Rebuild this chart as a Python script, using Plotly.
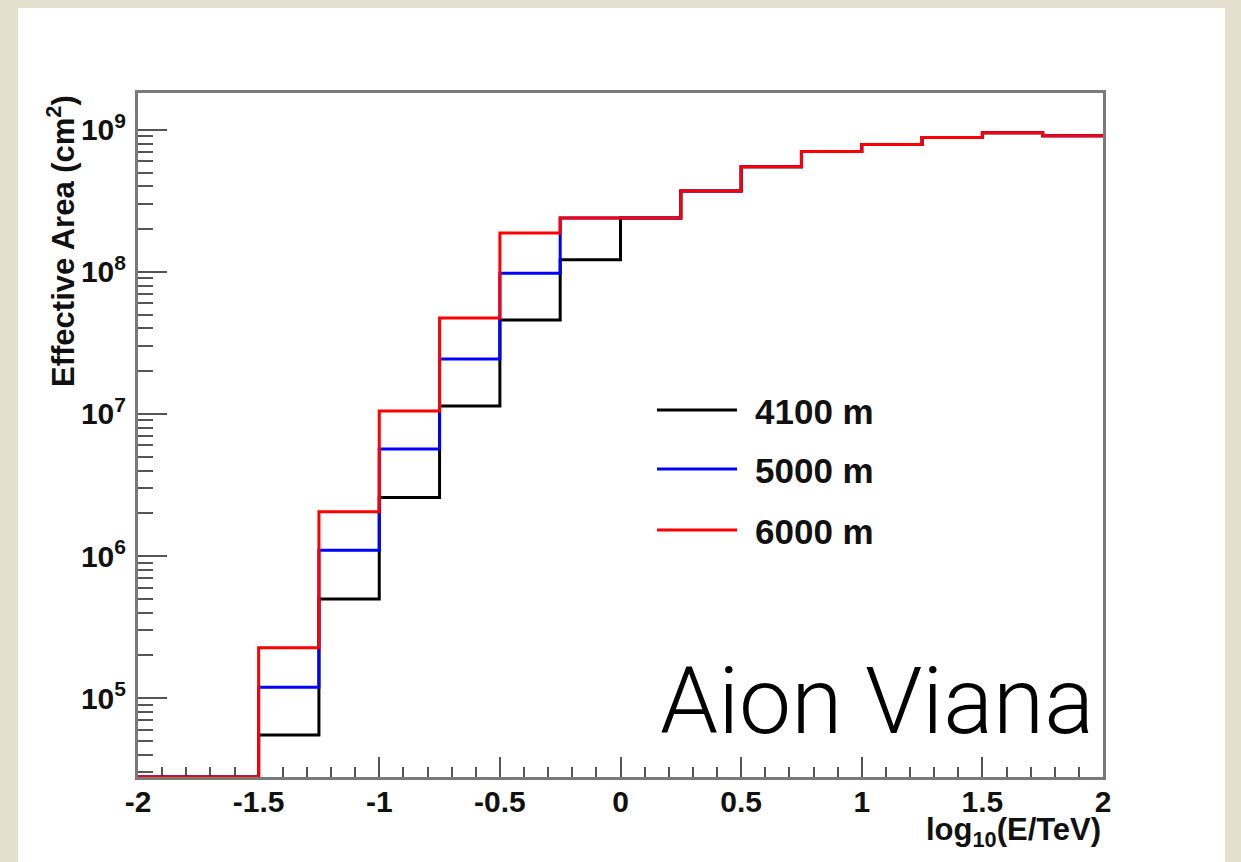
import plotly.graph_objects as go

# ---------------- data ----------------
bin_edges = [-2.0, -1.75, -1.5, -1.25, -1.0, -0.75, -0.5, -0.25, 0.0,
             0.25, 0.5, 0.75, 1.0, 1.25, 1.5, 1.75, 2.0]
series_names = ["4100 m", "5000 m", "6000 m"]
series_colors = ["#000000", "#0000ff", "#ff0000"]
area_4100 = [0, 0, 5.5e4, 4.98e5, 2.58e6, 1.14e7, 4.59e7, 1.22e8, 2.4e8,
             3.72e8, 5.5e8, 7.06e8, 7.9e8, 8.83e8, 9.57e8, 9.1e8]
area_5000 = [0, 0, 1.19e5, 1.1e6, 5.67e6, 2.44e7, 9.8e7, 2.4e8, 2.4e8,
             3.72e8, 5.5e8, 7.06e8, 7.9e8, 8.83e8, 9.57e8, 9.1e8]
area_6000 = [0, 0, 2.26e5, 2.05e6, 1.05e7, 4.74e7, 1.88e8, 2.4e8, 2.4e8,
             3.72e8, 5.5e8, 7.06e8, 7.9e8, 8.83e8, 9.57e8, 9.1e8]
y_tickvals = [1e5, 1e6, 1e7, 1e8, 1e9]
y_ticktext = ["10<sup>5</sup>", "10<sup>6</sup>", "10<sup>7</sup>",
              "10<sup>8</sup>", "10<sup>9</sup>"]
x_tickvals = [-2, -1.5, -1, -0.5, 0, 0.5, 1, 1.5, 2]
x_ticktext = ["-2", "-1.5", "-1", "-0.5", "0", "0.5", "1", "1.5", "2"]
y_title = "Effective Area (cm<sup>2</sup>)"
x_title = "log<sub>10</sub>(E/TeV)"
watermark = "Aion Viana"

# ---------------- layout constants ----------------
W, H = 1241, 862
L, R, T, B = 138, 138, 93, 85
PW, PH = W - L - R, H - T - B
YMIN, YMAX = 4.444, 9.26
FONT = "Liberation Sans, Arial, sans-serif"
AXC = "#7a7a7a"


def px(x):
    return (x - L) / PW


def py(y):
    return (H - B - y) / PH


fig = go.Figure()
floor = 10 ** YMIN
for name, color, vals in zip(series_names, series_colors,
                             [area_4100, area_5000, area_6000]):
    yv = [v if v > 0 else floor for v in vals]
    fig.add_trace(go.Scatter(
        x=bin_edges, y=yv + [yv[-1]], mode="lines", line_shape="hv",
        line=dict(color=color, width=3), name=name, showlegend=False,
        hoverinfo="skip"))

shapes = [dict(type="rect", xref="paper", yref="paper",
               x0=px(18), x1=px(1225), y0=py(8), y1=py(H + 5),
               fillcolor="white", line=dict(width=0), layer="below")]
annotations = []

# legend (manual, to match the long line samples)
leg_y = [410, 469, 530]
for name, color, yy in zip(series_names, series_colors, leg_y):
    shapes.append(dict(type="line", xref="paper", yref="paper",
                       x0=px(657), x1=px(737), y0=py(yy), y1=py(yy),
                       line=dict(color=color, width=3)))
    annotations.append(dict(xref="paper", yref="paper", x=px(753), y=py(yy + 1),
                            xanchor="left", yanchor="middle", showarrow=False,
                            text=name, font=dict(family=FONT, size=35,
                                                 color="#111", weight="bold")))

annotations.append(dict(xref="paper", yref="paper", x=px(61), y=py(241),
                        xanchor="center", yanchor="middle", showarrow=False,
                        textangle=-90, text=y_title,
                        font=dict(family=FONT, size=31, color="#111",
                                  weight="bold")))
annotations.append(dict(xref="paper", yref="paper", x=px(1103), y=py(810),
                        xanchor="right", yanchor="top", showarrow=False,
                        text=x_title,
                        font=dict(family=FONT, size=31, color="#111",
                                  weight="bold")))
annotations.append(dict(xref="paper", yref="paper", x=px(1096), y=py(758),
                        xanchor="right", yanchor="bottom", showarrow=False,
                        text=watermark,
                        font=dict(family="Roboto, Liberation Sans, sans-serif",
                                  size=93, color="#000", weight=300)))

fig.update_layout(
    width=W, height=H, margin=dict(l=L, r=R, t=T, b=B, pad=0),
    paper_bgcolor="#e4dfcf", plot_bgcolor="white",
    shapes=shapes, annotations=annotations, showlegend=False,
)
fig.update_xaxes(
    range=[-2, 2], tickvals=x_tickvals, ticktext=x_ticktext,
    ticks="inside", ticklen=20, tickwidth=2, tickcolor="#555",
    minor=dict(ticks="inside", ticklen=10, tickwidth=2, tickcolor="#555",
               dtick=0.1, tick0=0, showgrid=False),
    showline=True, linecolor=AXC, linewidth=3, mirror=True,
    showgrid=False, zeroline=False, layer="below traces",
    tickfont=dict(family=FONT, size=30, color="#111", weight="bold"),
    ticklabelstandoff=-4,
)
fig.update_yaxes(
    type="log", range=[YMIN, YMAX], tickvals=y_tickvals, ticktext=y_ticktext,
    ticks="inside", ticklen=29, tickwidth=2, tickcolor="#555",
    minor=dict(ticks="inside", ticklen=15, tickwidth=2, tickcolor="#555",
               dtick="D1", showgrid=False),
    showline=True, linecolor=AXC, linewidth=3, mirror=True,
    showgrid=False, zeroline=False, layer="below traces",
    tickfont=dict(family=FONT, size=30, color="#111", weight="bold"),
    ticklabelstandoff=3,
)

fig.write_html("out.html")
